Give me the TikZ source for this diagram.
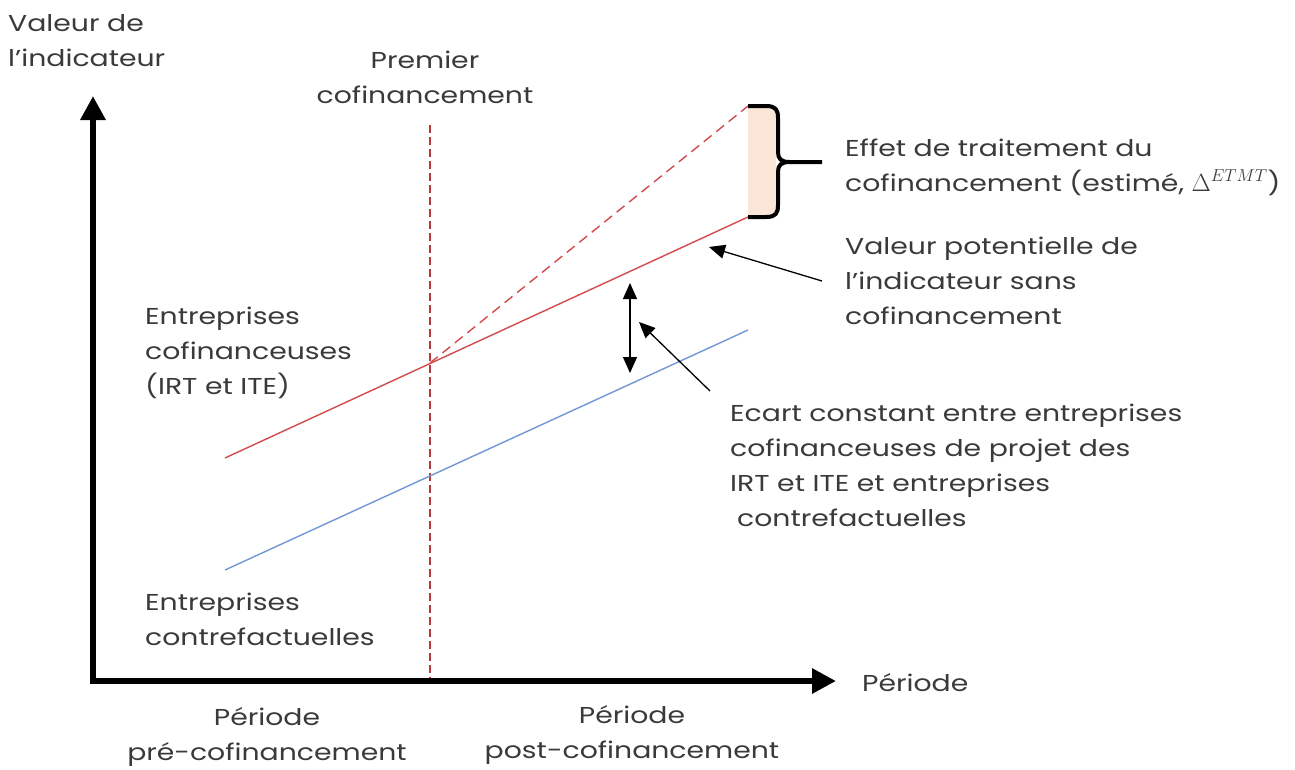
\documentclass[tikz,border=0pt]{standalone}
\usepackage{fontspec}
\setmainfont{Poppins}[FakeStretch=1.23]
\usetikzlibrary{arrows.meta}
\definecolor{txt}{HTML}{3A3A3A}
\definecolor{redl}{HTML}{D24A4A}
\definecolor{redd}{HTML}{B83A3A}
\definecolor{bluel}{HTML}{7297D6}
\definecolor{peach}{HTML}{FBE5D6}
\tikzset{
  lbl/.style={font=\fontsize{23}{35}\selectfont, text=txt, inner sep=0pt, align=left},
  lblc/.style={lbl, align=center},
  axis/.style={line width=6.5pt, -{Triangle[length=24pt,width=24pt]}},
  ptr/.style={line width=1.3pt, black, -{Triangle[length=16pt,width=14pt]}},
  dbl/.style={line width=1.3pt, black, {Triangle[length=16pt,width=14pt]}-{Triangle[length=16pt,width=14pt]}},
  brace/.style={line width=4pt, black, line join=round}
}
\begin{document}
\begin{tikzpicture}[x=1pt,y=-1pt]
\useasboundingbox (0,0) rectangle (1295,769);
% coordinates
\coordinate (O) at (93,681);
\coordinate (Ytop) at (93,96);
\coordinate (Xend) at (836,681);
\coordinate (Vtop) at (430,125);
\coordinate (Vbot) at (430,681);
\coordinate (R0) at (225,458);
\coordinate (R1) at (748,217);
\coordinate (B0) at (225,570);
\coordinate (B1) at (748,330);
\coordinate (X) at (430,363);
\coordinate (T1) at (748,106);
% shaded effect
\fill[peach] (748,106) rectangle (776,217);
% vertical dashed
\draw[redd, line width=1.2pt, dash pattern=on 8pt off 4pt] (Vtop) -- (Vbot);
% lines
\draw[redl, line width=1.4pt] (R0) -- (R1);
\draw[bluel, line width=1.4pt] (B0) -- (B1);
\draw[redl, line width=1.4pt, dash pattern=on 10pt off 6pt] (X) -- (T1);
% axes
\draw[axis] ([yshift=3pt]O) -- (Ytop);
\draw[axis] ([xshift=-3pt]O) -- (Xend);
% brace
\draw[brace] (748,106) -- (766,106) .. controls (776,106) and (778,110) .. (778,118)
  -- (778,152) .. controls (778,159) and (781,162) .. (790,162) -- (822,162);
\draw[brace] (748,217) -- (766,217) .. controls (776,217) and (778,213) .. (778,205)
  -- (778,172) .. controls (778,165) and (781,162) .. (790,162);
% arrows
\coordinate (D0) at (630,283);
\coordinate (D1) at (630,373);
\draw[dbl] (D0) -- (D1);
\coordinate (P0) at (710,391);
\coordinate (P1) at (639,322);
\draw[ptr] (P0) -- (P1);
\coordinate (Q0) at (822,281);
\coordinate (Q1) at (709,247);
\draw[ptr] (Q0) -- (Q1);
% labels (anchor = baseline of last line)
\node[lbl, anchor=base west] (yl) at (8,66) {Valeur de\\l’indicateur};
\node[lblc, anchor=base] (pc) at (425,103) {Premier\\cofinancement};
\node[lbl, anchor=base west] (eff) at (845,191) {Effet de traitement du\\cofinancement (estimé, $\Delta^{ETMT}$)};
\node[lbl, anchor=base west] (vp) at (845,324) {Valeur potentielle de\\l’indicateur sans\\cofinancement};
\node[lbl, anchor=base west] (ec) at (145,394) {Entreprises\\cofinanceuses\\(IRT et ITE)};
\node[lbl, anchor=base west] (ecart) at (730,526) {Ecart constant entre entreprises\\cofinanceuses de projet des\\IRT et ITE et entreprises\\\hspace*{7pt}contrefactuelles};
\node[lbl, anchor=base west] (ect) at (145,645) {Entreprises\\contrefactuelles};
\node[lbl, anchor=base west] (per) at (862,691) {Période};
\node[lblc, anchor=base] (pre) at (267,760) {Période\\pré-cofinancement};
\node[lblc, anchor=base] (post) at (632,758) {Période\\post-cofinancement};
\end{tikzpicture}
\end{document}
